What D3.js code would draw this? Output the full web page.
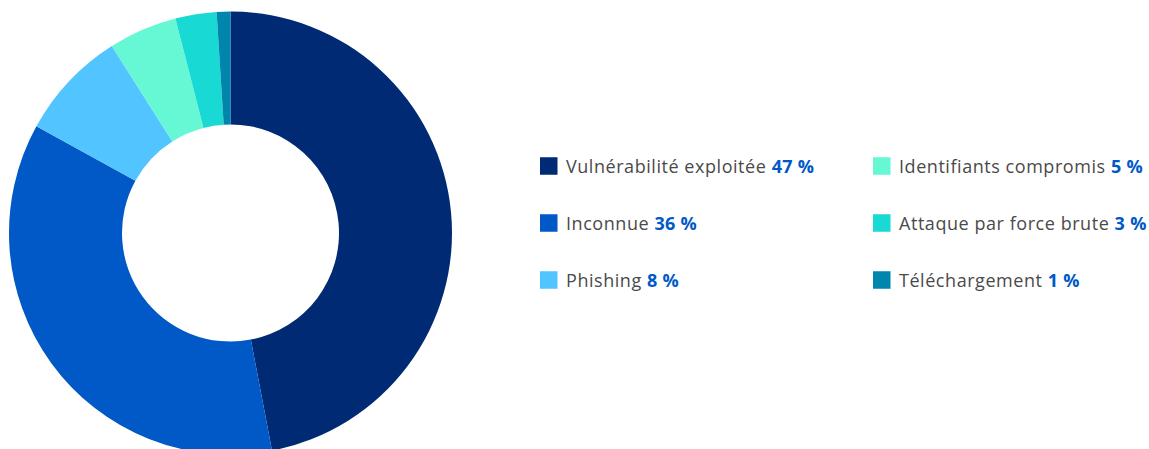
<!DOCTYPE html>
<html>
<head>
<meta charset="utf-8">
<script src="https://cdn.jsdelivr.net/npm/d3@7"></script>
<style>
  html, body { margin: 0; padding: 0; background: #fff; }
  svg { display: block; }
  .lbl { font-family: "Open Sans", "Noto Sans", sans-serif; font-size: 18px; fill: #4a4a4a; letter-spacing: 0.55px; }
  .pct { font-weight: 700; fill: #0059c6; letter-spacing: 0.3px; }
</style>
</head>
<body>
<svg id="chart" width="1149" height="449"></svg>
<script>
// Initial access vectors, share in percent
const categories = ["Vulnérabilité exploitée", "Inconnue", "Phishing", "Identifiants compromis", "Attaque par force brute", "Téléchargement"];
const values = [47, 36, 8, 5, 3, 1];
const colors = ["#002a73", "#0059c6", "#52c4ff", "#66f8d4", "#19d9d4", "#0085ad"];

const svg = d3.select("#chart");
const cx = 230.5, cy = 233, outerR = 221.5, innerR = 108.5;

const color = d3.scaleOrdinal().domain(categories).range(colors);

const pie = d3.pie().sort(null).value(d => d.value);
const arc = d3.arc().innerRadius(innerR).outerRadius(outerR);

const data = categories.map((c, i) => ({ name: c, value: values[i] }));

svg.append("g")
  .attr("transform", `translate(${cx},${cy})`)
  .selectAll("path")
  .data(pie(data))
  .join("path")
  .attr("d", arc)
  .attr("fill", d => color(d.data.name));

// Legend: two columns of three rows
const colX = [540, 873];
const rowY = [166, 223, 280];
const sq = 17.5;

const legend = svg.append("g")
  .selectAll("g")
  .data(data)
  .join("g")
  .attr("transform", (d, i) => `translate(${colX[Math.floor(i / 3)]},${rowY[i % 3]})`);

legend.append("rect")
  .attr("x", 0)
  .attr("y", -sq / 2)
  .attr("width", sq)
  .attr("height", sq)
  .attr("fill", d => color(d.name));

const txt = legend.append("text")
  .attr("class", "lbl")
  .attr("x", 26)
  .attr("y", 6.5);
txt.append("tspan").text(d => d.name + " ");
txt.append("tspan").attr("class", "pct").text(d => d.value + " %");
</script>
</body>
</html>
